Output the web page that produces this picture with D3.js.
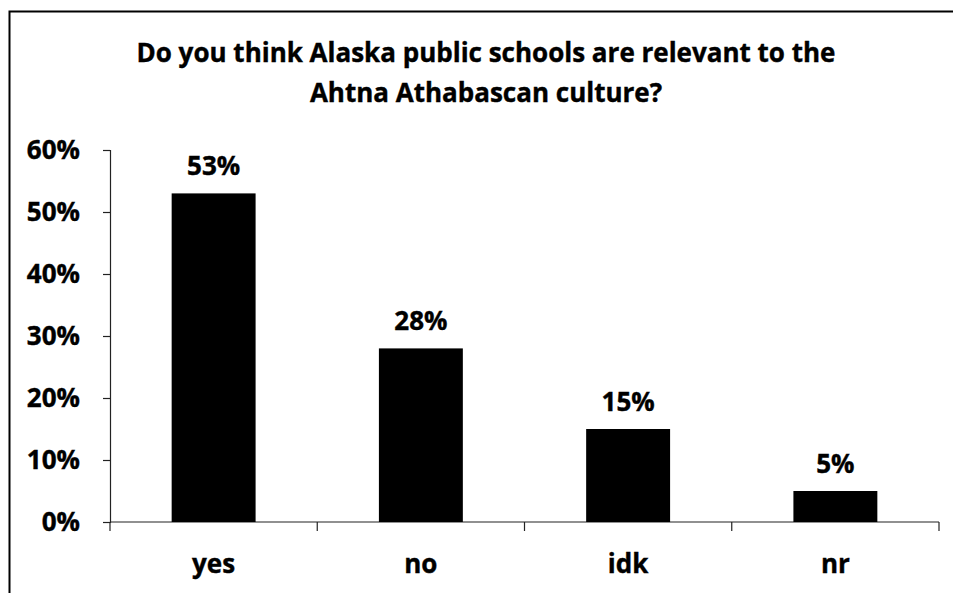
<!DOCTYPE html>
<html>
<head>
<meta charset="utf-8">
<script src="https://cdn.jsdelivr.net/npm/d3@7"></script>
<style>
  html, body { margin: 0; padding: 0; background: #fff; }
  svg { display: block; }
  text { font-family: "Open Sans", Lato, sans-serif; font-weight: bold; fill: #000;
         stroke: #000; stroke-width: 0.4px; }
</style>
</head>
<body>
<svg id="chart" width="953" height="593"></svg>
<script>
// Survey answers and their shares (percent)
const categories = ["yes", "no", "idk", "nr"];
const values = [53, 28, 15, 5];
const yTicks = [0, 10, 20, 30, 40, 50, 60];
const titleLines = [
  "Do you think Alaska public schools are relevant to the",
  "Ahtna Athabascan culture?"
];

const svg = d3.select("#chart");
const W = 953, H = 593;
const plot = { left: 110, right: 939, top: 150, bottom: 522 };

// Outer frame (runs off the right and bottom edges)
svg.append("rect")
  .attr("x", 9.5).attr("y", 11.5)
  .attr("width", W + 20).attr("height", H + 20)
  .attr("fill", "none").attr("stroke", "#000").attr("stroke-width", 2);

// Title
svg.append("g").selectAll("text")
  .data(titleLines)
  .join("text")
  .attr("x", 486)
  .attr("y", (d, i) => 62 + i * 40)
  .attr("text-anchor", "middle")
  .style("font-size", "26px")
  .text(d => d);

const x = d3.scaleBand()
  .domain(categories)
  .range([plot.left, plot.right])
  .paddingInner(0.595)
  .paddingOuter(0.2975);

const y = d3.scaleLinear()
  .domain([0, 60])
  .range([plot.bottom, plot.top]);

// Y axis
const yAxis = svg.append("g")
  .attr("transform", `translate(${plot.left},0)`)
  .call(d3.axisLeft(y).tickValues(yTicks).tickSize(7).tickPadding(23)
    .tickFormat(d => d + "%"));
yAxis.select(".domain").attr("stroke", "#222").attr("stroke-width", 1.2);
yAxis.selectAll(".tick line").attr("stroke", "#222").attr("stroke-width", 1.2);
yAxis.selectAll(".tick text")
  .style("font-family", "'Open Sans', sans-serif")
  .style("font-weight", "bold")
  .style("font-size", "26px")
  .attr("fill", "#000");

// X axis: baseline and boundary ticks between categories
const step = x.step();
const bounds = d3.range(categories.length + 1).map(i => plot.left + i * step);
svg.append("line")
  .attr("x1", plot.left).attr("x2", plot.right)
  .attr("y1", plot.bottom).attr("y2", plot.bottom)
  .attr("stroke", "#222").attr("stroke-width", 1.2);
svg.append("g").selectAll("line")
  .data(bounds)
  .join("line")
  .attr("x1", d => d).attr("x2", d => d)
  .attr("y1", plot.bottom).attr("y2", plot.bottom + 9)
  .attr("stroke", "#222").attr("stroke-width", 1.2);

// Category labels
svg.append("g").selectAll("text")
  .data(categories)
  .join("text")
  .attr("x", d => x(d) + x.bandwidth() / 2)
  .attr("y", 573)
  .attr("text-anchor", "middle")
  .style("font-size", "26px")
  .text(d => d);

// Bars
svg.append("g").selectAll("rect")
  .data(values)
  .join("rect")
  .attr("x", (d, i) => x(categories[i]))
  .attr("width", x.bandwidth())
  .attr("y", d => y(d))
  .attr("height", d => y(0) - y(d))
  .attr("fill", "#000");

// Value labels
svg.append("g").selectAll("text")
  .data(values)
  .join("text")
  .attr("x", (d, i) => x(categories[i]) + x.bandwidth() / 2)
  .attr("y", d => y(d) - 18)
  .attr("text-anchor", "middle")
  .style("font-size", "26px")
  .text(d => d + "%");
</script>
</body>
</html>
